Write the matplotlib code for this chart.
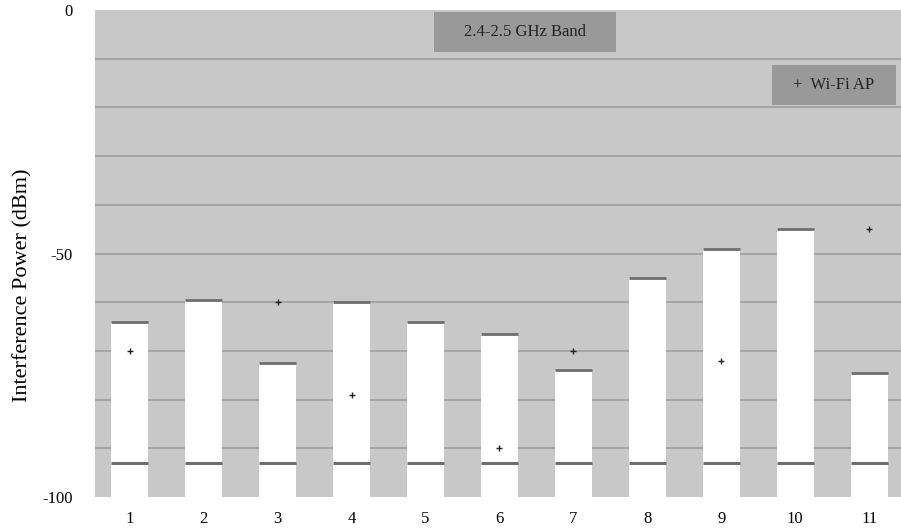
import matplotlib.pyplot as plt
from matplotlib.patches import Rectangle
import numpy as np

plt.rcParams['font.family'] = ['Liberation Serif', 'DejaVu Serif']
plt.rcParams['axes.unicode_minus'] = False

# channels and measured values (dBm)
channels = [1, 2, 3, 4, 5, 6, 7, 8, 9, 10, 11]
band_top = [-64, -59.5, -72.5, -60, -64, -66.5, -74, -55, -49, -45, -74.5]
noise_floor = [-93] * 11
ap_channels = [1, 3, 4, 6, 7, 9, 11]
ap_power = [-70, -60, -79, -90, -70, -72, -45]
y_ticks = [0, -50, -100]

fig = plt.figure(figsize=(9.01, 5.29), dpi=100)
ax = fig.add_axes([0.1054, 0.0605, 0.8946, 0.9205])
ax.set_facecolor('#c8c8c8')

# horizontal grid every 10 dBm
for g in range(-90, 0, 10):
    ax.axhline(g, color='#a2a2a2', lw=1.3, zorder=1)

x = np.array(channels)
ax.bar(x, np.array(band_top) + 100, bottom=-100, width=0.5,
       color='white', edgecolor='none', zorder=2)
ax.hlines(band_top, x - 0.25, x + 0.25, colors='#6e6e6e', lw=2, zorder=3)
ax.hlines(noise_floor, x - 0.25, x + 0.25, colors='#6e6e6e', lw=2.2, zorder=3)
ax.plot(ap_channels, ap_power, ls='none', marker='+', ms=4, mew=1,
        color='#222222', zorder=4)

ax.set_xlim(0.53, 11.43)
ax.set_ylim(-100, 0)
ax.set_xticks(channels)
ax.set_yticks(y_ticks)
ax.tick_params(length=0, labelsize=12)
ax.tick_params(axis='x', pad=10)
ax.tick_params(axis='y', pad=16)
for s in ax.spines.values():
    s.set_visible(False)

ax.set_ylabel('Interference Power (dBm)', fontsize=16)
ax.yaxis.set_label_coords(-0.077, 0.435)

# legend-like boxes
boxes = [((0.4206, 0.9138), 0.2258, 0.0821, '2.4-2.5 GHz Band'),
         ((0.840, 0.805), 0.1538, 0.0821, '+  Wi-Fi AP')]
for (bx, by), bw, bh, label in boxes:
    ax.add_patch(Rectangle((bx, by), bw, bh, transform=ax.transAxes,
                           fc='#999999', ec='none', zorder=5))
    ax.text(bx + bw / 2, by + bh / 2, label, transform=ax.transAxes,
            ha='center', va='center', fontsize=12, color='#222222', zorder=6)

fig.savefig('out.png', dpi=100)
